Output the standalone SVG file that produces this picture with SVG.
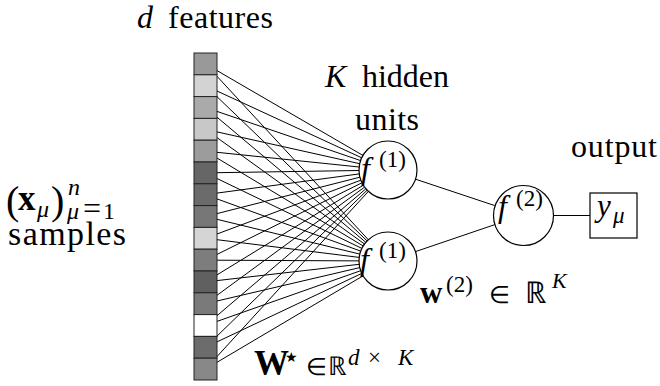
<svg xmlns="http://www.w3.org/2000/svg" width="660" height="386" viewBox="0 0 660 386">
<style>
.t{font-family:'Liberation Serif',serif;fill:#000}
.i{font-style:italic}
.b{font-weight:bold}
.c{stroke:#222;stroke-width:1}
.e{stroke:#000;stroke-width:1;fill:none}
.n{fill:#fff;stroke:#000;stroke-width:1.2}
</style>
<rect width="660" height="386" fill="#fff"/>
<g id="connectors" class="e">
<line x1="217" y1="70.6" x2="362.9" y2="155.4"/>
<line x1="217" y1="91.0" x2="361.7" y2="157.8"/>
<line x1="217" y1="111.4" x2="360.6" y2="160.6"/>
<line x1="217" y1="131.9" x2="359.7" y2="163.7"/>
<line x1="217" y1="152.3" x2="359.2" y2="167.0"/>
<line x1="217" y1="172.7" x2="359.0" y2="170.5"/>
<line x1="217" y1="193.1" x2="359.3" y2="173.9"/>
<line x1="217" y1="213.6" x2="359.9" y2="177.2"/>
<line x1="217" y1="234.0" x2="360.8" y2="180.2"/>
<line x1="217" y1="254.4" x2="362.0" y2="182.8"/>
<line x1="217" y1="274.9" x2="363.3" y2="185.2"/>
<line x1="217" y1="295.3" x2="364.6" y2="187.1"/>
<line x1="217" y1="315.7" x2="365.9" y2="188.8"/>
<line x1="216.7" y1="336.4" x2="367.2" y2="190.2"/>
<line x1="215.5" y1="358.2" x2="368.4" y2="191.4"/>
<line x1="215.6" y1="74.8" x2="368.3" y2="239.7"/>
<line x1="216.9" y1="96.6" x2="367.1" y2="240.9"/>
<line x1="217" y1="117.2" x2="365.8" y2="242.3"/>
<line x1="217" y1="137.6" x2="364.5" y2="244.0"/>
<line x1="217" y1="158.0" x2="363.2" y2="246.0"/>
<line x1="217" y1="178.5" x2="361.9" y2="248.4"/>
<line x1="217" y1="198.9" x2="360.7" y2="251.1"/>
<line x1="217" y1="219.3" x2="359.8" y2="254.1"/>
<line x1="217" y1="239.7" x2="359.2" y2="257.4"/>
<line x1="217" y1="260.2" x2="359.0" y2="260.9"/>
<line x1="217" y1="280.6" x2="359.2" y2="264.3"/>
<line x1="217" y1="301.0" x2="359.8" y2="267.6"/>
<line x1="217" y1="321.4" x2="360.7" y2="270.7"/>
<line x1="217" y1="341.9" x2="361.8" y2="273.4"/>
<line x1="217" y1="362.3" x2="363.1" y2="275.8"/>
<line x1="415.5" y1="179.2" x2="494.5" y2="205.5"/>
<line x1="415.5" y1="251.6" x2="494.6" y2="224.7"/>
<line x1="553" y1="215.5" x2="590" y2="215.5"/>
</g>
<g id="input">
<rect class="c" x="194" y="53" width="23" height="21.8" fill="#999999"/>
<rect class="c" x="194" y="74.8" width="23" height="21.8" fill="#d3d3d3"/>
<rect class="c" x="194" y="96.6" width="23" height="21.8" fill="#aaaaaa"/>
<rect class="c" x="194" y="118.4" width="23" height="21.8" fill="#c8c8c8"/>
<rect class="c" x="194" y="140.2" width="23" height="21.8" fill="#9c9c9c"/>
<rect class="c" x="194" y="162" width="23" height="21.8" fill="#666666"/>
<rect class="c" x="194" y="183.8" width="23" height="21.8" fill="#6b6b6b"/>
<rect class="c" x="194" y="205.6" width="23" height="21.8" fill="#777777"/>
<rect class="c" x="194" y="227.4" width="23" height="21.8" fill="#d5d5d5"/>
<rect class="c" x="194" y="249.2" width="23" height="21.8" fill="#7d7d7d"/>
<rect class="c" x="194" y="271" width="23" height="21.8" fill="#606060"/>
<rect class="c" x="194" y="292.8" width="23" height="21.8" fill="#7a7a7a"/>
<rect class="c" x="194" y="314.6" width="23" height="21.8" fill="#ffffff"/>
<rect class="c" x="194" y="336.4" width="23" height="21.8" fill="#6c6c6c"/>
<rect class="c" x="194" y="358.2" width="23" height="21.8" fill="#888888"/>
</g>
<g id="hidden1">
<circle class="n" cx="388" cy="170" r="29"/>
<text class="t i" x="361" y="179" font-size="32">f</text>
<text class="t" x="379" y="167" font-size="23">(1)</text>
</g>
<g id="hidden2">
<circle class="n" cx="388" cy="261" r="29"/>
<text class="t i" x="360" y="270" font-size="32">f</text>
<text class="t" x="379" y="258" font-size="23">(1)</text>
</g>
<g id="outnode">
<circle class="n" cx="523.5" cy="215.5" r="30"/>
<text class="t i" x="498" y="217" font-size="32">f</text>
<text class="t" x="516" y="206" font-size="23">(2)</text>
</g>
<g id="y">
<rect class="n" x="590" y="193" width="47" height="45"/>
<text class="t i" x="597" y="216" font-size="31">y</text>
<text class="t i" x="613" y="223" font-size="23">μ</text>
</g>
<g id="labels">
<text class="t i" x="137" y="28" font-size="32">d</text>
<text class="t" x="168" y="28" font-size="32" textLength="105">features</text>
<text class="t i" x="325" y="87" font-size="32">K</text>
<text class="t" x="362" y="87" font-size="32" textLength="87">hidden</text>
<text class="t" x="355" y="130" font-size="32" textLength="64">units</text>
<text class="t" x="571" y="157" font-size="32" textLength="86">output</text>
<text class="t" x="6" y="214" font-size="40">(</text>
<text class="t b" x="18" y="210" font-size="35">x</text>
<text class="t i" x="37" y="217" font-size="24">μ</text>
<text class="t" x="51" y="214" font-size="40">)</text>
<text class="t i" x="68" y="195" font-size="24">n</text>
<text class="t i" x="67" y="219" font-size="24">μ</text>
<text class="t" x="83" y="219" font-size="32">=</text>
<text class="t" x="103" y="219" font-size="24">1</text>
<text class="t" x="8" y="245" font-size="34" textLength="118">samples</text>
<text class="t b" x="420" y="303" font-size="31">w</text>
<text class="t" x="446" y="292" font-size="23">(2)</text>
<text class="t" x="489" y="303" font-size="24">∈</text>
<text class="t" x="525" y="303" font-size="30">ℝ</text>
<text class="t i" x="552" y="288" font-size="22">K</text>
<text class="t b" x="254" y="375" font-size="35">W</text>
<text class="t" x="285" y="362" font-size="14">★</text>
<text class="t" x="306" y="375" font-size="24">∈</text>
<text class="t" x="328" y="375" font-size="26">ℝ</text>
<text class="t i" x="348" y="365" font-size="23">d</text>
<text class="t" x="368" y="365" font-size="23">×</text>
<text class="t i" x="398" y="365" font-size="23">K</text>
</g>
</svg>
